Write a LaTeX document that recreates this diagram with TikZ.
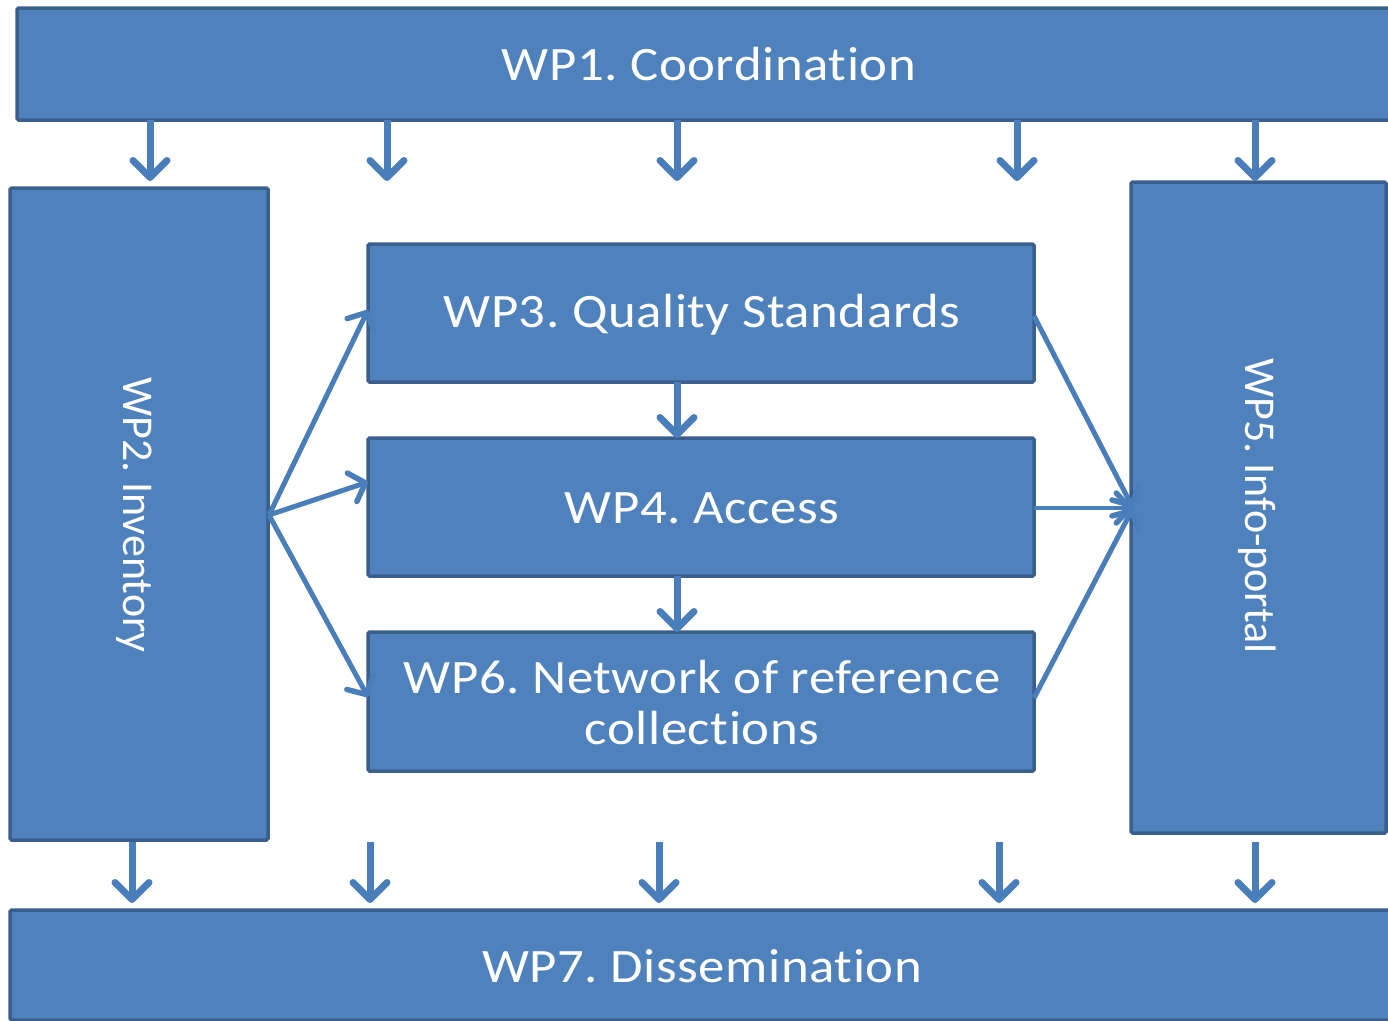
\documentclass[tikz,border=0pt]{standalone}
\usepackage{fontspec}
\setmainfont{Carlito}[Ligatures=NoCommon]
\newfontfamily\hfont{Carlito}[Ligatures=NoCommon,FakeStretch=1.1,LetterSpace=1.2]
\usetikzlibrary{arrows.meta}
\definecolor{boxfill}{HTML}{4F81BD}
\definecolor{boxline}{HTML}{3A5F8C}
\definecolor{arrcol}{HTML}{4A7EBB}
\frenchspacing
\begin{document}
\begin{tikzpicture}[x=1pt,y=-1pt,
  wpbox/.style={draw=boxline,fill=boxfill,line width=3.5pt,rounded corners=1.5pt,inner sep=0pt,outer sep=0pt},
  htext/.style={text=white,font=\hfont\fontsize{48}{52}\selectfont,align=center,inner sep=0pt},
  vtext/.style={text=white,font=\fontsize{44}{52}\selectfont,rotate=-90,inner sep=0pt},
  arr/.style={draw=arrcol,line width=7pt,-{Straight Barb[length=17pt,width=34pt,line width=7pt,round]}},
  darr/.style={draw=arrcol,line width=5pt,-{Straight Barb[length=14pt,width=30pt,line width=5.5pt,round]}},
  harr/.style={draw=arrcol,line width=4pt,-{Straight Barb[length=14pt,width=30pt,line width=5.5pt,round]}}
]
\useasboundingbox (0,0) rectangle (1388,1020);
% boxes
\node[wpbox,minimum width=1378pt,minimum height=112pt] (wp1) at (706,64) {};
\node[htext] (t1txt) at (709,64) {WP1. Coordination};
\node[wpbox,minimum width=258pt,minimum height=652pt] (wp2) at (139,514) {};
\node[vtext] (t2txt) at (134,515) {WP2. Inventory};
\node[wpbox,minimum width=255pt,minimum height=651pt] (wp5) at (1258.5,507.5) {};
\node[vtext] (t5txt) at (1257,506) {WP5. Info-portal};
\node[wpbox,minimum width=666pt,minimum height=138pt] (wp3) at (701,313) {};
\node[htext] (t3txt) at (702,315) {WP3. Quality Standards};
\node[wpbox,minimum width=666pt,minimum height=138pt] (wp4) at (701,507) {};
\node[htext] (t4txt) at (702,508) {WP4. Access};
\node[wpbox,minimum width=666pt,minimum height=139pt] (wp6) at (701,701.5) {};
\node[htext] (t6txt) at (702,702) {WP6. Network of reference\\[-1pt]collections};
\node[wpbox,minimum width=1386pt,minimum height=110pt] (wp7) at (703,965) {};
\node[htext] (t7txt) at (702,966) {WP7. Dissemination};
% top arrows
\foreach \x/\n in {150/ta,387/tb,677/tc,1017/td,1255/te}{
  \coordinate (\n) at (\x,181);
  \draw[arr] (\n |- wp1.south) -- (\n);
}
% bottom arrows
\foreach \x/\n in {132/ba,370/bb,659/bc,999/bd,1255/be}{
  \coordinate (\n s) at (\x,842);
  \coordinate (\n e) at (\x,903);
  \draw[arr] (\n s) -- (\n e);
}
% vertical between middle boxes
\draw[arr] (wp3.south -| 677,0) -- (wp4.north -| 677,0);
\draw[arr] (wp4.south -| 677,0) -- (wp6.north -| 677,0);
% left fan
\coordinate (l0) at (269,515);
\draw[darr] (l0) -- (wp3.west |- 0,310);
\draw[darr] (l0) -- (wp4.west |- 0,482);
\draw[darr] (l0) -- (wp6.west |- 0,697);
% right fan
\coordinate (r0) at (1133,508);
\draw[darr] (wp3.east |- 0,316) -- (r0);
\draw[harr] (wp4.east |- 0,508) -- (r0);
\draw[darr] (wp6.east |- 0,698) -- (r0);
\end{tikzpicture}
\end{document}
